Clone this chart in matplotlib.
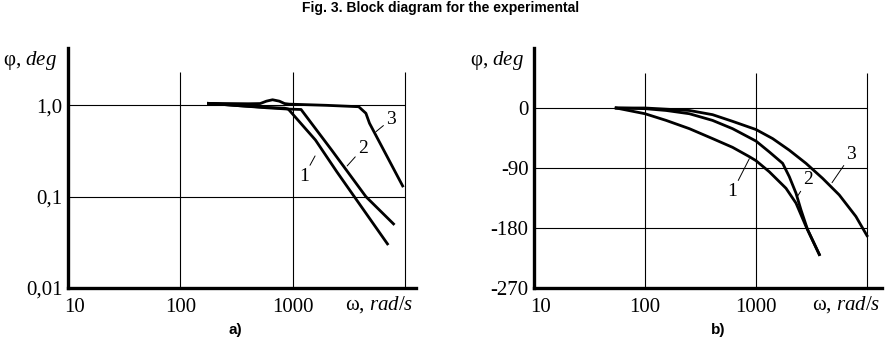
import numpy as np
import matplotlib
matplotlib.use("Agg")
import matplotlib.pyplot as plt
import matplotlib.transforms as mtransforms

plt.rcParams['font.family'] = ['Liberation Serif', 'DejaVu Serif']
plt.rcParams['mathtext.fontset'] = 'custom'
plt.rcParams['mathtext.rm'] = 'Liberation Serif'
plt.rcParams['mathtext.it'] = 'Liberation Serif:italic'

# panel a) - log-log, curves 1..3
a_w1 = [178, 334, 583, 846, 912, 1592, 2477, 6966]
a_y1 = [1.05, 0.99, 0.95, 0.93, 0.91, 0.417, 0.186, 0.0304]
a_w2 = [178, 334, 583, 900, 1186, 2218, 4478, 7886]
a_y2 = [1.05, 0.99, 0.94, 0.91, 0.90, 0.324, 0.10, 0.0503]
a_w3 = [178, 403, 513, 583, 661, 760, 846, 929, 1987, 3863, 4478, 4820, 9510]
a_y3 = [1.05, 1.04, 1.045, 1.11, 1.15, 1.11, 1.045, 1.03, 1.0, 0.965, 0.818, 0.636, 0.131]

# panel b) - phase, curves 1..3
b_w1 = [55, 100, 155, 251, 406, 615, 871, 1000, 1318, 1863, 2293, 2820, 3720]
b_y1 = [0, -8.6, -18.6, -31, -45.9, -59, -73, -79, -95.7, -120.4, -142.7, -177.6, -219.8]
b_w2 = [55, 100, 155, 251, 406, 615, 1000, 1318, 1738, 1995, 2293, 2541, 2917, 3720]
b_y2 = [0, -1, -3.7, -8.6, -18.6, -31, -49.6, -65.9, -83, -103, -127.8, -152.7, -182.5, -219.8]
b_w3 = [55, 100, 251, 406, 615, 1000, 1413, 1995, 2820, 3981, 5623, 7943, 10000]
b_y3 = [0, 0, -3.7, -10, -20, -32.3, -45.9, -63.3, -83, -105.5, -130.4, -162.7, -191.5]

a_yticks = [1.0, 0.1, 0.01]
a_ylabels = ['1,0', '0,1', '0,01']
b_yticks = [0, -90, -180, -270]
b_ylabels = ['0', '-90', '-180', '-270']
xticks = [10, 100, 1000]
xlabels = ['10', '100', '1000']

# label positions (text, label point, curve point)
a_notes = [('1', (1256, 0.166), (1580, 0.279)),
           ('2', (4217, 0.339), (3050, 0.217)),
           ('3', (7500, 0.703), (5500, 0.514))]
b_notes = [('1', (614, -125.6), (871, -76)),
           ('2', (2930, -108), (2333, -134)),
           ('3', (7240, -69.5), (4842, -112))]

fig = plt.figure(figsize=(8.89, 3.47), dpi=100)
axa = fig.add_axes([68/889, 59/347, 348/889, 240/347])
axb = fig.add_axes([534/889, 59/347, 348/889, 240/347])


def style(ax):
	ax.set_xscale('log')
	for s in ['top', 'right']:
		ax.spines[s].set_visible(False)
	for s in ['left', 'bottom']:
		ax.spines[s].set_linewidth(2.4)
	ax.tick_params(length=0, labelsize=15)
	ax.tick_params(axis='y', pad=4)
	ax.tick_params(axis='x', pad=7)
	ax.minorticks_off()
	ax.set_xticks(xticks)
	ax.set_xticklabels(xlabels)
	# first label sits just right of the spine
	lab = ax.get_xticklabels()[0]
	lab.set_transform(lab.get_transform() + mtransforms.ScaledTranslation(7/100, 0, fig.dpi_scale_trans))


def notes(ax, items):
	for t, p, q in items:
		ax.annotate(t, xy=q, xytext=p, ha='center', va='center', fontsize=14,
			arrowprops=dict(arrowstyle='-', lw=0.7, shrinkA=0, shrinkB=0))


style(axa)
axa.set_yscale('log')
axa.set_xlim(10, 12500)
axa.set_ylim(0.01, 4.24)
axa.minorticks_off()
axa.set_yticks(a_yticks)
axa.set_yticklabels(a_ylabels)
axa.hlines([1.0, 0.1], 10, 10000, color='k', lw=0.8)
axa.vlines([100, 1000, 10000], 0.01, 2.33, color='k', lw=0.8)
for w, y in [(a_w1, a_y1), (a_w2, a_y2), (a_w3, a_y3)]:
	axa.plot(w, y, color='k', lw=2.0, solid_joinstyle='round')
notes(axa, a_notes)

style(axb)
axb.set_xlim(10, 13650)
axb.set_ylim(-270, 90)
axb.set_yticks(b_yticks)
axb.set_yticklabels(b_ylabels)
axb.hlines([0, -90, -180], 10, 10000, color='k', lw=0.8)
axb.vlines([100, 1000, 10000], -270, 53, color='k', lw=0.8)
for w, y in [(b_w1, b_y1), (b_w2, b_y2), (b_w3, b_y3)]:
	axb.plot(w, y, color='k', lw=2.0, solid_joinstyle='round')
notes(axb, b_notes)

# axis names
fig.text(3/889, 1 - 60/347, r'φ, $\it{deg}$', fontsize=15, va='center', ha='left')
fig.text(470/889, 1 - 60/347, r'φ, $\it{deg}$', fontsize=15, va='center', ha='left')
fig.text(413/889, 1 - 305/347, r'ω, $\it{rad/s}$', fontsize=15, va='center', ha='right')
fig.text(880/889, 1 - 305/347, r'ω, $\it{rad/s}$', fontsize=15, va='center', ha='right')

fig.text(441/889, 1 - 8/347, 'Fig. 3. Block diagram for the experimental',
	family='Liberation Sans', weight='bold', fontsize=10, ha='center', va='center')
fig.text(235/889, 1 - 330/347, 'a)', family='Liberation Sans', weight='bold',
	fontsize=11, ha='center', va='center')
fig.text(718/889, 1 - 330/347, 'b)', family='Liberation Sans', weight='bold',
	fontsize=11, ha='center', va='center')

fig.savefig('out.png', dpi=100)
